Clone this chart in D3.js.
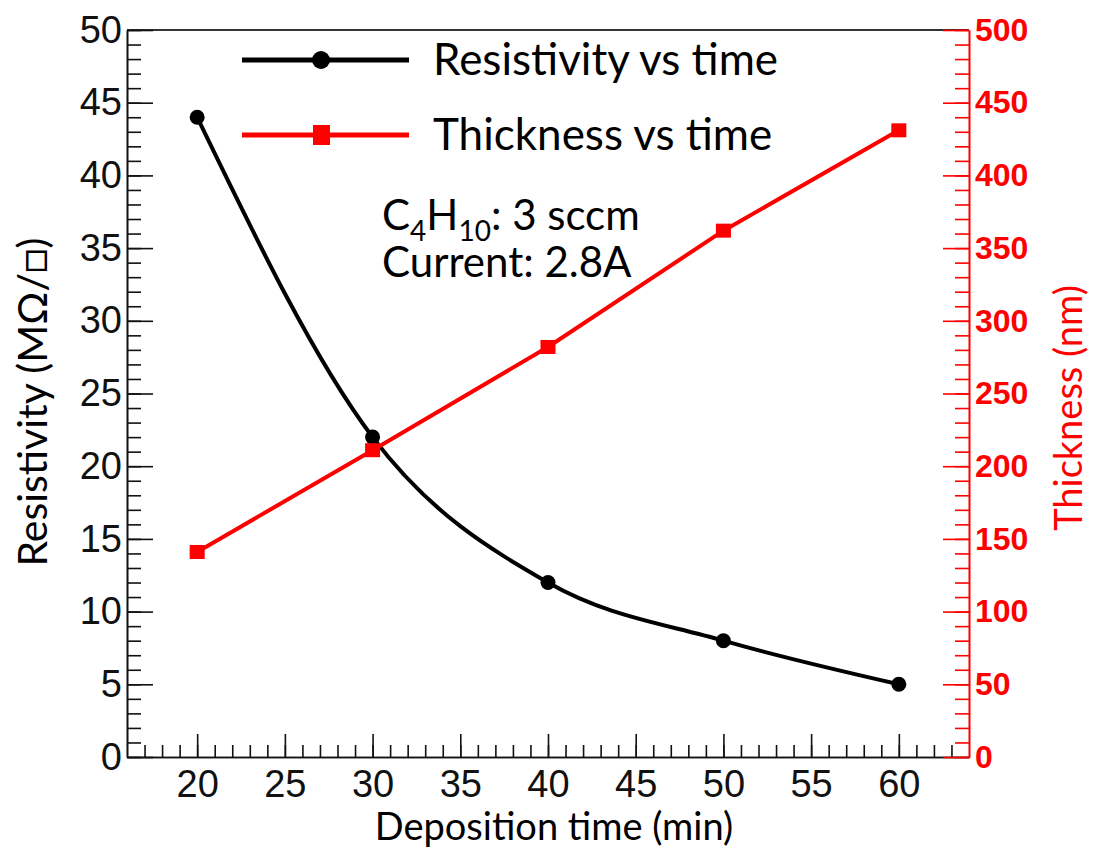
<!DOCTYPE html>
<html>
<head>
<meta charset="utf-8">
<script src="https://cdn.jsdelivr.net/npm/d3@7"></script>
<style>
  body { margin: 0; background: #fff; }
  svg { display: block; }
</style>
</head>
<body>
<figure id="chart" style="margin:0"></figure>
<script>
// data
const times = [20, 30, 40, 50, 60];
const resistivity = [44, 22, 12, 8, 5];
const thickness = [141, 211, 282, 362, 431];
const xTicks = [20, 25, 30, 35, 40, 45, 50, 55, 60];
const leftTicks = [0, 5, 10, 15, 20, 25, 30, 35, 40, 45, 50];
const rightTicks = [0, 50, 100, 150, 200, 250, 300, 350, 400, 450, 500];

const W = 1097, H = 848;
const plot = { left: 127, right: 969, top: 30, bottom: 757 };
const RED = "#ff0000";
const titleFont = "Lato, 'Open Sans', sans-serif";
const tickFont = "'Liberation Sans', Arial, sans-serif";

const svg = d3.select("#chart")
  .append("svg")
  .attr("width", W)
  .attr("height", H);

svg.append("rect").attr("width", W).attr("height", H).attr("fill", "#fff");

const x = d3.scaleLinear().domain([16, 64]).range([plot.left, plot.right]);
const yL = d3.scaleLinear().domain([0, 50]).range([plot.bottom, plot.top]);
const yR = d3.scaleLinear().domain([0, 500]).range([plot.bottom, plot.top]);

// top frame line
svg.append("line")
  .attr("x1", plot.left).attr("x2", plot.right)
  .attr("y1", plot.top).attr("y2", plot.top)
  .attr("stroke", "#333").attr("stroke-width", 2);

// helper: minor + major ticks in two groups, ticks pointing inward
function drawAxis(maker, scale, pos, minorVals, majorVals, minorLen, majorLen, pad) {
  const g = svg.append("g").attr("transform", pos);
  g.append("g").call(maker(scale).tickValues(minorVals).tickSizeInner(-minorLen).tickSizeOuter(0).tickFormat(""));
  g.append("g").call(maker(scale).tickValues(majorVals).tickSizeInner(-majorLen).tickSizeOuter(0).tickPadding(pad));
  return g;
}

// bottom axis
const gx = drawAxis(d3.axisBottom, x, "translate(0," + plot.bottom + ")",
  d3.range(17, 64, 1), xTicks, 12, 23, 13);
gx.selectAll("path, line").attr("stroke", "#111").attr("stroke-width", 1.6);
gx.selectAll("text")
  .style("font-family", tickFont).style("font-size", "38px").attr("fill", "#111");

// left axis
const gl = drawAxis(d3.axisLeft, yL, "translate(" + plot.left + ",0)",
  d3.range(0, 51, 1), leftTicks, 14, 26, 5);
gl.selectAll("path, line").attr("stroke", "#111").attr("stroke-width", 1.6);
gl.selectAll("text")
  .style("font-family", tickFont).style("font-size", "38px").attr("fill", "#111");

// right axis, red
const gr = drawAxis(d3.axisRight, yR, "translate(" + plot.right + ",0)",
  d3.range(0, 501, 10), rightTicks, 14, 26, 6);
gr.selectAll("path, line").attr("stroke", RED).attr("stroke-width", 1.6);
gr.selectAll("text")
  .style("font-family", tickFont).style("font-size", "32px").style("font-weight", "bold").attr("fill", RED);

// resistivity curve (smooth)
const resData = times.map((t, i) => ({ t: t, v: resistivity[i] }));
svg.append("path")
  .datum(resData)
  .attr("fill", "none")
  .attr("stroke", "#000")
  .attr("stroke-width", 4)
  .attr("d", d3.line().x(d => x(d.t)).y(d => yL(d.v)).curve(d3.curveMonotoneX));

// thickness line
const thkData = times.map((t, i) => ({ t: t, v: thickness[i] }));
svg.append("path")
  .datum(thkData)
  .attr("fill", "none")
  .attr("stroke", RED)
  .attr("stroke-width", 4)
  .attr("d", d3.line().x(d => x(d.t)).y(d => yR(d.v)));

svg.selectAll("circle.res")
  .data(resData)
  .enter()
  .append("circle")
  .attr("cx", d => x(d.t))
  .attr("cy", d => yL(d.v))
  .attr("r", 7.5)
  .attr("fill", "#000");

svg.selectAll("rect.thk")
  .data(thkData)
  .enter()
  .append("rect")
  .attr("x", d => x(d.t) - 7.5)
  .attr("y", d => yR(d.v) - 7)
  .attr("width", 15)
  .attr("height", 14)
  .attr("fill", RED);

// legend
const legend = [
  { label: "Resistivity vs time", color: "#000", shape: "circle", y: 60 },
  { label: "Thickness vs time", color: RED, shape: "square", y: 135 }
];
legend.forEach(d => {
  svg.append("line")
    .attr("x1", 242).attr("x2", 409)
    .attr("y1", d.y).attr("y2", d.y)
    .attr("stroke", d.color).attr("stroke-width", 5);
  if (d.shape === "circle") {
    svg.append("circle").attr("cx", 321).attr("cy", d.y).attr("r", 9).attr("fill", d.color);
  } else {
    svg.append("rect").attr("x", 313).attr("y", d.y - 10).attr("width", 17).attr("height", 20).attr("fill", d.color);
  }
  svg.append("text")
    .attr("x", 433).attr("y", d.y + 15)
    .style("font-family", titleFont).style("font-size", "44px")
    .attr("fill", "#000")
    .text(d.label);
});

// annotation
const note = svg.append("text")
  .attr("x", 382).attr("y", 230)
  .style("font-family", titleFont).style("font-size", "42px")
  .attr("fill", "#000");
note.append("tspan").text("C");
note.append("tspan").attr("dy", 11).style("font-size", "28px").text("4");
note.append("tspan").attr("dy", -11).text("H");
note.append("tspan").attr("dy", 11).style("font-size", "28px").text("10");
note.append("tspan").attr("dy", -11).text(": 3 sccm");

svg.append("text")
  .attr("x", 382).attr("y", 277)
  .style("font-family", titleFont).style("font-size", "42px")
  .attr("fill", "#000")
  .text("Current: 2.8A");

// axis titles
svg.append("text")
  .attr("x", 554).attr("y", 840)
  .attr("text-anchor", "middle")
  .style("font-family", titleFont).style("font-size", "38px")
  .attr("fill", "#000")
  .text("Deposition time (min)");

svg.append("text")
  .attr("transform", "translate(47,402) rotate(-90)")
  .attr("text-anchor", "middle")
  .style("font-family", titleFont).style("font-size", "41px")
  .attr("fill", "#000")
  .text("Resistivity (M\u03A9/\u25A1)");

svg.append("text")
  .attr("transform", "translate(1082,408) rotate(-90)")
  .attr("text-anchor", "middle")
  .style("font-family", titleFont).style("font-size", "38px")
  .attr("fill", RED)
  .text("Thickness (nm)");
</script>
</body>
</html>
